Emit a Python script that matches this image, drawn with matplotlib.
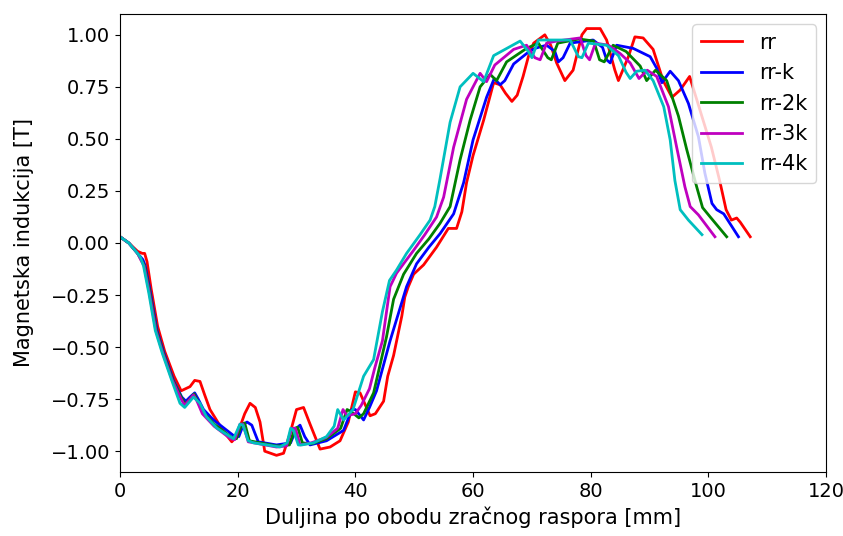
import matplotlib
matplotlib.use("Agg")
import matplotlib.pyplot as plt

# rr
rr_x = [0, 1.5, 3.0, 3.8, 4.2, 4.6, 5.3, 6.4, 7.6, 9.2, 10.4, 11.9, 12.7, 13.6, 14.4, 15.3,
        17.6, 19.0, 19.8, 21.2, 22.1, 23.0, 23.8, 24.6, 26.6, 27.8, 28.9, 30.0, 31.2, 32.3,
        34.0, 35.7, 37.4, 38.8, 40.0, 40.8, 42.5, 43.4, 44.8, 45.5, 46.5, 47.9, 48.4, 49.0,
        49.9, 51.6, 53.8, 55.8, 57.2, 58.1, 58.9, 60.0, 61.8, 63.5, 64.6, 65.5, 66.6, 67.5,
        68.5, 69.4, 70.3, 72.2, 73.2, 74.2, 75.6, 77.0, 78.5, 79.3, 81.6, 82.7, 84.1, 84.7,
        86.4, 87.5, 88.9, 90.6, 92.3, 93.8, 95.2, 96.8, 98.0, 100.5, 101.9, 103.0, 103.9,
        104.8, 105.4, 107.1]
rr_y = [0.03, 0.0, -0.04, -0.05, -0.05, -0.09, -0.22, -0.40, -0.52, -0.64, -0.71, -0.69,
        -0.66, -0.665, -0.73, -0.80, -0.905, -0.955, -0.93, -0.82, -0.77, -0.79, -0.86, -1.0,
        -1.02, -1.01, -0.915, -0.80, -0.79, -0.87, -0.99, -0.98, -0.95, -0.86, -0.715, -0.72,
        -0.83, -0.82, -0.76, -0.64, -0.54, -0.35, -0.26, -0.21, -0.15, -0.105, -0.02, 0.07,
        0.07, 0.15, 0.29, 0.42, 0.59, 0.77, 0.76, 0.72, 0.68, 0.71, 0.80, 0.895, 0.96, 1.0,
        0.95, 0.865, 0.78, 0.83, 1.0, 1.03, 1.03, 0.975, 0.83, 0.78, 0.895, 0.99, 0.985, 0.93,
        0.78, 0.70, 0.735, 0.80, 0.69, 0.46, 0.30, 0.16, 0.11, 0.12, 0.10, 0.03]

# rr-k
rrk_x = [0, 1.5, 3.0, 3.9, 4.3, 5.2, 6.3, 7.5, 9.1, 10.5, 11.2, 11.9, 12.7, 13.3, 14.2, 15.9,
         19.3, 20.2, 21.0, 21.6, 22.4, 23.5, 26.6, 29.0, 30.0, 30.6, 31.4, 32.3, 35.1, 38.0,
         39.4, 40.0, 41.4, 42.4, 43.6, 45.9, 47.3, 48.7, 50.4, 52.5, 54.4, 56.7, 58.4, 60.0,
         62.3, 63.6, 64.6, 65.4, 66.9, 69.1, 70.5, 72.5, 73.9, 74.5, 75.3, 76.5, 80.4, 82.0,
         82.7, 83.3, 84.4, 87.2, 90.1, 91.2, 92.1, 93.5, 94.9, 96.6, 98.3, 99.4, 100.6, 101.4,
         102.6, 105.1]
rrk_y = [0.03, 0.0, -0.05, -0.08, -0.11, -0.24, -0.42, -0.53, -0.66, -0.74, -0.76, -0.74,
         -0.72, -0.75, -0.80, -0.85, -0.925, -0.93, -0.87, -0.86, -0.875, -0.955, -0.97, -0.96,
         -0.89, -0.875, -0.93, -0.97, -0.95, -0.90, -0.80, -0.80, -0.85, -0.79, -0.71, -0.47,
         -0.34, -0.21, -0.10, -0.02, 0.045, 0.14, 0.29, 0.495, 0.70, 0.79, 0.76, 0.78, 0.86,
         0.91, 0.935, 0.95, 0.92, 0.87, 0.89, 0.96, 0.975, 0.94, 0.88, 0.865, 0.95, 0.935,
         0.895, 0.84, 0.77, 0.825, 0.78, 0.67, 0.51, 0.335, 0.19, 0.16, 0.14, 0.03]

# rr-2k
rr2k_x = [0, 1.5, 3.0, 3.8, 4.2, 5.1, 6.2, 7.4, 9.0, 10.5, 11.1, 12.0, 12.6, 13.2, 14.0, 16.0,
          19.0, 19.8, 20.7, 21.2, 22.0, 26.6, 28.8, 29.7, 30.2, 31.0, 32.5, 35.1, 37.5, 38.6,
          39.3, 40.6, 41.4, 43.1, 45.3, 46.5, 48.2, 50.4, 52.5, 54.4, 56.1, 57.8, 59.5, 61.2,
          62.9, 64.0, 65.7, 69.1, 71.1, 72.7, 73.3, 74.4, 78.0, 80.5, 81.5, 82.3, 83.8, 86.0,
          88.4, 89.5, 91.0, 92.9, 94.9, 96.3, 98.0, 99.0, 100.3, 103.1]
rr2k_y = [0.03, 0.0, -0.05, -0.09, -0.11, -0.24, -0.42, -0.53, -0.66, -0.745, -0.775, -0.745,
          -0.725, -0.76, -0.81, -0.87, -0.935, -0.94, -0.87, -0.865, -0.95, -0.975, -0.97,
          -0.89, -0.885, -0.96, -0.965, -0.94, -0.89, -0.80, -0.81, -0.84, -0.82, -0.72, -0.45,
          -0.27, -0.15, -0.05, 0.02, 0.095, 0.175, 0.40, 0.59, 0.75, 0.81, 0.78, 0.87, 0.935,
          0.96, 0.89, 0.88, 0.96, 0.98, 0.97, 0.88, 0.87, 0.95, 0.92, 0.85, 0.78, 0.83, 0.78,
          0.61, 0.45, 0.27, 0.17, 0.125, 0.03]

# rr-3k
rr3k_x = [0, 1.5, 3.0, 3.7, 4.1, 5.0, 6.1, 7.3, 8.9, 10.4, 11.0, 11.9, 12.5, 13.1, 14.0, 16.0,
          18.8, 19.5, 20.4, 20.9, 21.8, 26.6, 28.3, 29.2, 29.8, 30.6, 32.5, 35.0, 37.0, 37.9,
          38.6, 40.0, 41.0, 42.4, 43.3, 44.6, 45.9, 47.0, 49.9, 51.8, 53.8, 55.0, 56.7, 58.9,
          61.2, 62.3, 63.7, 66.9, 69.1, 70.5, 71.4, 72.5, 74.2, 78.2, 79.2, 79.8, 80.8, 83.0,
          85.0, 86.7, 88.2, 89.6, 91.2, 93.2, 94.6, 96.0, 96.9, 98.3, 101.1]
rr3k_y = [0.03, 0.0, -0.05, -0.09, -0.11, -0.24, -0.42, -0.53, -0.66, -0.75, -0.78, -0.75,
          -0.73, -0.76, -0.82, -0.88, -0.94, -0.945, -0.87, -0.87, -0.955, -0.98, -0.975, -0.89,
          -0.89, -0.97, -0.96, -0.935, -0.89, -0.80, -0.83, -0.82, -0.78, -0.70, -0.60, -0.47,
          -0.21, -0.145, -0.035, 0.04, 0.125, 0.22, 0.46, 0.69, 0.815, 0.775, 0.855, 0.93, 0.95,
          0.89, 0.88, 0.96, 0.97, 0.985, 0.90, 0.88, 0.96, 0.95, 0.91, 0.865, 0.79, 0.83, 0.80,
          0.655, 0.46, 0.27, 0.175, 0.135, 0.03]

# rr-4k
rr4k_x = [0, 1.5, 3.0, 3.5, 4.0, 4.9, 6.0, 7.2, 8.8, 10.2, 11.0, 12.5, 13.6, 14.7, 16.5, 18.7,
          19.3, 20.4, 20.9, 21.8, 22.7, 27.2, 28.4, 29.0, 29.5, 30.3, 30.9, 32.9, 35.1, 36.4,
          37.0, 38.0, 39.6, 41.4, 43.1, 44.6, 45.8, 47.0, 48.7, 51.0, 52.7, 53.5, 54.4, 56.1,
          57.8, 60.0, 61.8, 63.5, 68.0, 69.4, 70.0, 71.1, 76.5, 77.9, 78.5, 79.6, 82.7, 84.7,
          86.0, 86.7, 87.8, 89.2, 90.6, 92.4, 93.5, 94.3, 95.2, 96.6, 98.9]
rr4k_y = [0.03, 0.0, -0.05, -0.07, -0.11, -0.24, -0.42, -0.53, -0.66, -0.77, -0.79, -0.74,
          -0.77, -0.835, -0.89, -0.93, -0.94, -0.87, -0.875, -0.95, -0.96, -0.98, -0.96, -0.89,
          -0.90, -0.97, -0.97, -0.96, -0.93, -0.88, -0.80, -0.85, -0.80, -0.64, -0.56, -0.33,
          -0.18, -0.13, -0.05, 0.04, 0.11, 0.175, 0.31, 0.58, 0.75, 0.815, 0.775, 0.90, 0.97,
          0.92, 0.89, 0.975, 0.975, 0.895, 0.89, 0.96, 0.95, 0.90, 0.82, 0.79, 0.825, 0.83,
          0.78, 0.655, 0.495, 0.30, 0.16, 0.11, 0.04]

series = [
    (rr_x, rr_y, 'r', 'rr'),
    (rrk_x, rrk_y, 'b', 'rr-k'),
    (rr2k_x, rr2k_y, 'g', 'rr-2k'),
    (rr3k_x, rr3k_y, 'm', 'rr-3k'),
    (rr4k_x, rr4k_y, 'c', 'rr-4k'),
]

fig = plt.figure(figsize=(8.43, 5.36), dpi=100)
ax = fig.add_axes([0.1423, 0.1194, 0.8377, 0.8545])

for xs, ys, col, lab in series:
    ax.plot(xs, ys, color=col, lw=2, label=lab)

ax.set_xlim(0, 120)
ax.set_ylim(-1.10, 1.10)
ax.set_xticks([0, 20, 40, 60, 80, 100, 120])
ax.set_yticks([-1.0, -0.75, -0.5, -0.25, 0.0, 0.25, 0.5, 0.75, 1.0])
ax.tick_params(labelsize=14)
ax.set_xlabel('Duljina po obodu zračnog raspora [mm]', fontsize=15)
ax.set_ylabel('Magnetska indukcija [T]', fontsize=15, labelpad=12)
ax.legend(loc='upper right', fontsize=15)

fig.savefig('out.png', dpi=100)
